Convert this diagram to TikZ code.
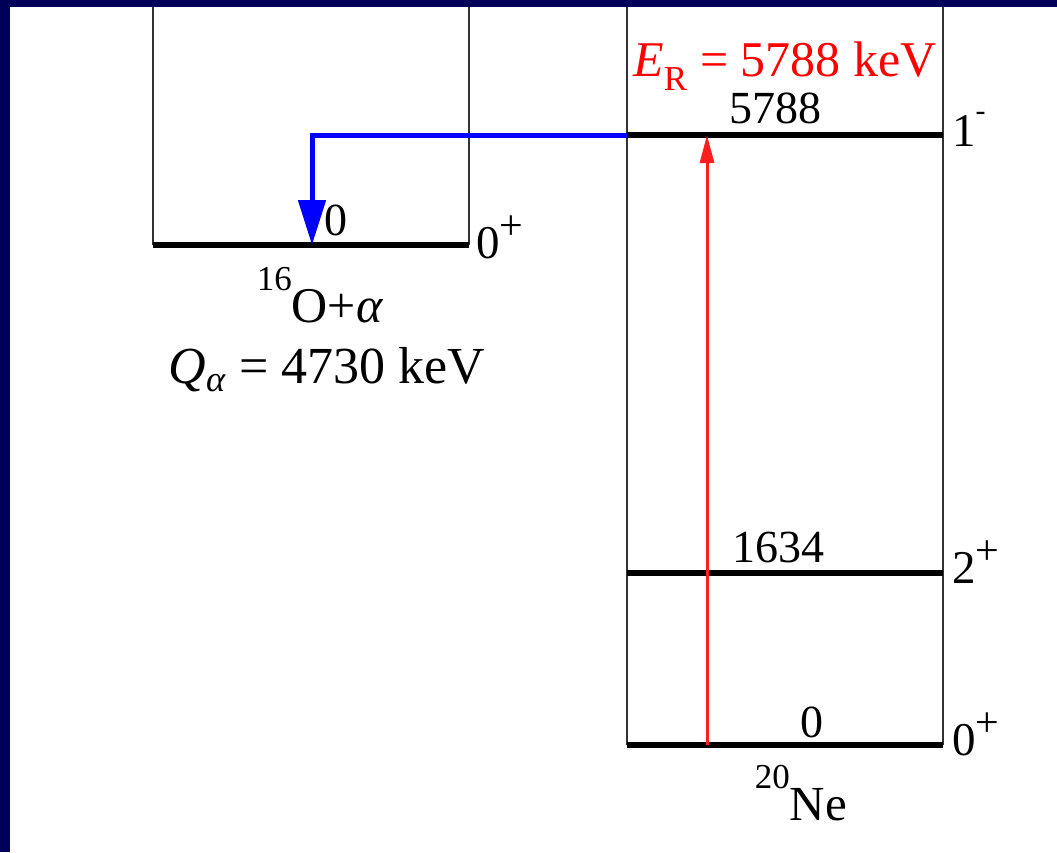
\documentclass[tikz,border=0pt]{standalone}
\usepackage{fontspec}
\setmainfont{Liberation Serif}
\usetikzlibrary{arrows.meta}
\definecolor{navyband}{RGB}{0,0,88}
\definecolor{bluearrow}{RGB}{0,0,255}
\definecolor{redarrow}{RGB}{255,30,30}
\newcommand\spinsup[1]{\raisebox{0.40em}{\fontsize{42}{42}\selectfont #1}}
\newcommand\spinminus{\raisebox{0.55em}{\fontsize{30}{30}\selectfont -}}
\newcommand\isosup[1]{\raisebox{0.64em}{\fontsize{35}{35}\selectfont #1}}
\begin{document}
\begin{tikzpicture}[x=1pt,y=-1pt,
  boxline/.style={line width=2pt, draw=black!80},
  levelline/.style={line width=6pt, draw=black},
  lbl/.style={inner sep=0pt, anchor=base, font=\fontsize{46}{52}\selectfont},
  spinlbl/.style={inner sep=0pt, anchor=base west, font=\fontsize{47}{52}\selectfont},
  biglbl/.style={inner sep=0pt, anchor=base, font=\fontsize{50}{56}\selectfont}
]
\useasboundingbox (0,0) rectangle (1057,852);
\fill[white] (0,0) rectangle (1057,852);
\fill[navyband] (0,0) rectangle (10,852);
\fill[navyband] (0,0) rectangle (1057,7);

% coordinates
\coordinate (Ltop1) at (153,7);
\coordinate (Ltop2) at (469,7);
\coordinate (Lg1) at (153,245);
\coordinate (Lg2) at (469,245);
\coordinate (Rtop1) at (627,7);
\coordinate (Rtop2) at (943,7);
\coordinate (R51) at (627,135);
\coordinate (R52) at (943,135);
\coordinate (R11) at (627,573);
\coordinate (R12) at (943,573);
\coordinate (R01) at (627,745);
\coordinate (R02) at (943,745);
\coordinate (bcorner) at (312,135);
\coordinate (btip) at (312,245);
\coordinate (rbase) at (707,745);
\coordinate (rtip) at (707,135);

% boxes
\draw[boxline] (Ltop1) -- (Lg1);
\draw[boxline] (Ltop2) -- (Lg2);
\draw[boxline] (Rtop1) -- (R01);
\draw[boxline] (Rtop2) -- (R02);

% levels
\draw[levelline] (Lg1) -- (Lg2);
\draw[levelline] (R51) -- (R52);
\draw[levelline] (R11) -- (R12);
\draw[levelline] (R01) -- (R02);

% arrows
\draw[line width=3pt, redarrow, -{Triangle[length=28pt,width=14pt]}] (rbase) -- (rtip);
\draw[line width=5pt, bluearrow, -{Triangle[length=45pt,width=27pt]}] (R51) -- (bcorner) -- (btip);

% labels
\node[lbl] (l0) at (336,235) {0};
\node[spinlbl] (s0) at (476,258) {0\spinsup{+}};
\node[lbl, font=\fontsize{50}{56}\selectfont] (O16) at (320,322) {\isosup{16}O+\textit{α}};
\node[biglbl, font=\fontsize{52}{58}\selectfont] (Q) at (327,383) {\textit{Q}\textsubscript{\textit{α}} = 4730 keV};

\node[biglbl, text=red] (ER) at (785,76) {\textit{E}\textsubscript{R} = 5788 keV};
\node[lbl] (l5788) at (775,123) {5788};
\node[spinlbl] (s1) at (952,146) {1\spinminus};
\node[lbl] (l1634) at (778,562) {1634};
\node[spinlbl] (s2) at (952,583) {2\spinsup{+}};
\node[lbl] (lg) at (812,737) {0};
\node[spinlbl] (sg) at (952,755) {0\spinsup{+}};
\node[biglbl, font=\fontsize{49}{55}\selectfont] (Ne) at (801,820) {\isosup{20}Ne};
\end{tikzpicture}
\end{document}
